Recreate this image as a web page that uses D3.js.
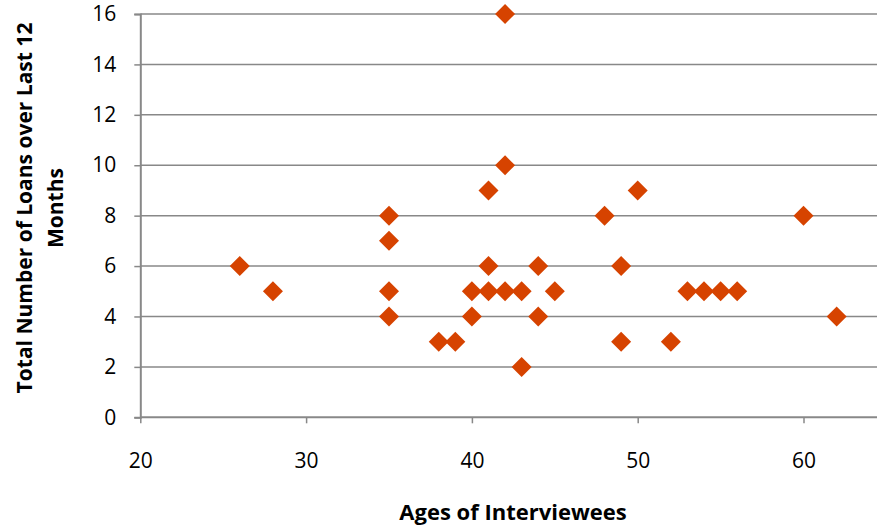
<!DOCTYPE html>
<html>
<head>
<meta charset="utf-8">
<script src="https://cdn.jsdelivr.net/npm/d3@7"></script>
<style>
  body { margin: 0; background: #fff; }
  text { font-family: "Open Sans", sans-serif; fill: #000; }
</style>
</head>
<body>
<script>
// ages of interviewees and loans taken over the last 12 months
const ages  = [26, 28, 35, 35, 35, 35, 38, 39, 40, 40, 41, 41, 41, 42, 42, 42, 43, 43, 44, 44, 45, 48, 49, 49, 50, 52, 53, 54, 55, 56, 60, 62];
const loans = [ 6,  5,  8,  7,  5,  4,  3,  3,  5,  4,  9,  6,  5, 16, 10,  5,  5,  2,  6,  4,  5,  8,  6,  3,  9,  3,  5,  5,  5,  5,  8,  4];
const xTicks = [20, 30, 40, 50, 60];
const yTicks = [0, 2, 4, 6, 8, 10, 12, 14, 16];

const width = 877, height = 529;
const plot = {left: 140.3, top: 14, bottom: 417.3};

let dataset = ages.map((a, i) => ({age: a, loans: loans[i]}));

let svg = d3.select("body")
            .append("svg")
            .attr("width", width)
            .attr("height", height);

// x runs 20..65, the right edge falls just outside the picture
let xScale = d3.scaleLinear()
    .domain([20, 65])
    .range([plot.left, plot.left + 45 * 16.58]);
let yScale = d3.scaleLinear()
    .domain([0, 16])
    .range([plot.bottom, plot.top]);

const grey = "#888888";

// horizontal gridlines
svg.append("g")
   .selectAll("line")
   .data(yTicks.filter(d => d > 0))
   .enter()
   .append("line")
   .attr("x1", xScale(20))
   .attr("x2", xScale(65))
   .attr("y1", d => yScale(d))
   .attr("y2", d => yScale(d))
   .attr("stroke", grey)
   .attr("stroke-width", 1.5);

// y axis
let yAxis = svg.append("g")
   .attr("transform", "translate(" + xScale(20) + ",0)")
   .call(d3.axisLeft(yScale).tickValues(yTicks).tickSize(6).tickPadding(18));

// x axis
let xAxis = svg.append("g")
   .attr("transform", "translate(0," + yScale(0) + ")")
   .call(d3.axisBottom(xScale).tickValues(xTicks).tickSize(6).tickPadding(30));

[xAxis, yAxis].forEach(ax => {
    ax.select(".domain").attr("stroke", grey).attr("stroke-width", 2);
    ax.selectAll(".tick line").attr("stroke", grey).attr("stroke-width", 1.5);
    ax.selectAll(".tick text")
      .attr("font-family", "'Open Sans', sans-serif")
      .attr("font-size", 21)
      .attr("fill", "#000");
});
xAxis.select(".domain").attr("d", "M" + xScale(20) + ",0H" + xScale(65));

// diamonds
let diamond = d3.symbol().type(d3.symbolSquare).size(200);
svg.append("g")
   .selectAll("path")
   .data(dataset)
   .enter()
   .append("path")
   .attr("d", diamond)
   .attr("transform", d => "translate(" + xScale(d.age) + "," + yScale(d.loans) + ") rotate(45)")
   .attr("fill", "#d64300");

// x axis title
svg.append("text")
   .attr("x", 513)
   .attr("y", 520)
   .attr("text-anchor", "middle")
   .attr("font-size", 22)
   .attr("font-weight", "bold")
   .text("Ages of Interviewees");

// y axis title, two lines
let yTitle = svg.append("text")
   .attr("transform", "translate(25,208) rotate(-90)")
   .attr("text-anchor", "middle")
   .attr("font-size", 21)
   .attr("font-weight", "bold");
yTitle.append("tspan").attr("x", 0).attr("dy", "0.35em").text("Total Number of Loans over Last 12");
yTitle.append("tspan").attr("x", 0).attr("dy", 31).text("Months");
</script>
</body>
</html>
